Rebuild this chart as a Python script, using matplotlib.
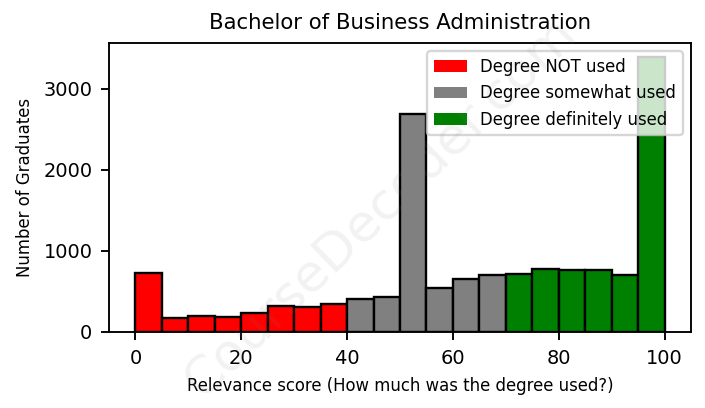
import numpy as np
import matplotlib
matplotlib.use("Agg")
import matplotlib.pyplot as plt
from matplotlib.patches import Patch

# bin left edges (width 5) and graduate counts
bin_edges = np.arange(0, 105, 5)
counts_not_used = [728, 169, 202, 185, 235, 326, 309, 342]
counts_somewhat = [407, 437, 2695, 548, 654, 704]
counts_definitely = [716, 778, 762, 762, 704, 3395]

labels = ["Degree NOT used", "Degree somewhat used", "Degree definitely used"]
colors = ["red", "gray", "green"]
y_ticks = [0, 1000, 2000, 3000]

fig = plt.figure(figsize=(705 / 170, 408 / 170), dpi=170)
ax = fig.add_axes([0.1546, 0.1863, 0.8255, 0.708])

start = 0
for vals, col in zip([counts_not_used, counts_somewhat, counts_definitely], colors):
    lefts = bin_edges[start:start + len(vals)]
    ax.bar(lefts, vals, width=5, align="edge", color=col, edgecolor="black", linewidth=1.0)
    start += len(vals)

ax.set_title("Bachelor of Business Administration", fontsize=9)
ax.set_xlabel("Relevance score (How much was the degree used?)", fontsize=7)
ax.set_ylabel("Number of Graduates", fontsize=7)
ax.set_yticks(y_ticks)
ax.tick_params(labelsize=8.2)

# legend patches have no edge in the original
handles = [Patch(facecolor=c, label=l) for c, l in zip(colors, labels)]
ax.legend(handles=handles, loc="upper right", fontsize=7)

# faint watermark
fig.text(0.54, 0.49, "CourseDecoder.com", fontsize=22, color="gray",
         rotation=44, ha="center", va="center", alpha=0.1, zorder=10)

fig.savefig("out.png", dpi=170)
